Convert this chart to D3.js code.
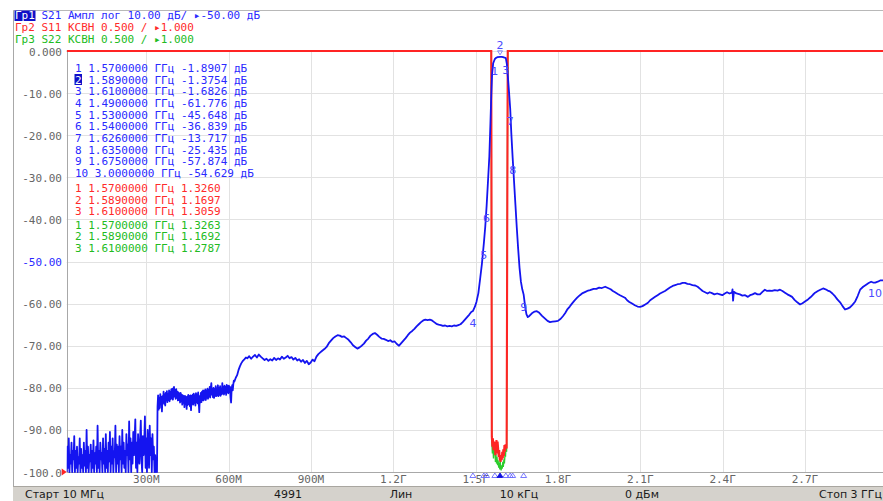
<!DOCTYPE html>
<html><head><meta charset="utf-8">
<script src="https://cdn.jsdelivr.net/npm/d3@7"></script>
<style>
html,body{margin:0;padding:0;background:#fff;overflow:hidden;}
svg{display:block;}
</style></head><body>
<svg id="c" width="883" height="501"></svg>
<script>
// ---------- DATA ----------
// S21 trace: [frequency MHz, dB]
const s21Points = [
[10,-100],[12.5,-94],[15,-99],[17.5,-92],[20,-100],[22.5,-96],[25,-98],[27.5,-93],[30,-100],[32.5,-95],
[35,-97],[37.5,-91.5],[40,-100],[42.5,-95],[45,-99],[47.5,-94],[50,-100],[52.5,-96.5],[55,-98],[57.5,-92],
[60,-100],[62.5,-94.5],[65,-99],[67.5,-96],[70,-100],[72.5,-93],[75,-98.5],[77.5,-95],[80,-100],[82.5,-90],
[85,-99],[87.5,-94],[90,-100],[92.5,-96],[95,-97.5],[97.5,-93.5],[100,-100],[102.5,-95],[105,-99],[107.5,-92.5],
[110,-100],[112.5,-95.5],[115,-98],[117.5,-94],[120,-100],[122.5,-89],[125,-99],[127.5,-95],[130,-100],[132.5,-93],
[135,-97],[137.5,-95.5],[140,-100],[142.5,-92],[145,-98],[147.5,-94.5],[150,-100],[152.5,-91],[155,-99],[157.5,-95],
[160,-100],[162.5,-93],[165,-97.5],[167.5,-90.5],[170,-100],[172.5,-94],[175,-98],[177.5,-92],[180,-100],[182.5,-95],
[185,-96.5],[187.5,-89],[190,-100],[192.5,-93.5],[195,-98],[197.5,-94],[200,-100],[202.5,-91.5],[205,-97],[207.5,-94],
[210,-100],[212.5,-90],[215,-98],[217.5,-93],[220,-99],[222.5,-95],[225,-100],[227.5,-91],[230,-96],[232.5,-93.5],
[235,-100],[237.5,-88],[240,-97],[242.5,-92],[245,-100],[247.5,-93],[250,-98],[252.5,-90.5],[255,-96],[257.5,-92],
[260,-87.5],[262.5,-99],[265,-93],[267.5,-100],[270,-91],[272.5,-95],[275,-98],[277.5,-92],[280,-87.8],[282.5,-97],
[285,-100],[287.5,-91.5],[290,-96],[292.5,-93],[295,-86.8],[297.5,-99],[300,-92],[302.5,-100],[305,-90],[307.5,-95],
[310,-99],[312.5,-89],[315,-96],[317.5,-92],[320,-100],[322.5,-91],[325,-97],[327.5,-94],[330,-100],[332.5,-96],
[335,-100],[337.5,-98],[339,-100],
[341,-84.5],[343,-81.8],[345,-85.2],[347,-82.4],[349,-84.8],[351,-81.5],[353,-83.9],[355,-82.2],[357,-85.6],[359,-82],
[361,-83.5],[363,-80.9],[365,-83.8],[367,-81.6],[369,-84.2],[371,-81.2],[373,-83],[375,-80.8],[377,-83.4],[379,-81.5],
[381,-82.9],[383,-80.6],[385,-83.2],[387,-81],[389,-82.7],[391,-80.4],[393,-82.5],[395,-80.2],[397,-82.8],[399,-80.6],
[401,-79.8],[403,-82.1],[405,-80.5],[407,-82.6],[409,-80.3],[411,-82.4],[413,-80.9],[415,-83],[417,-81.1],[419,-82.9],
[421,-81.4],[423,-83.5],[425,-81.2],[427,-83.2],[429,-81.6],[431,-84],[433,-81.8],[435,-83.6],[437,-82],[439,-84.6],
[441,-81.9],[443,-83.8],[445,-82.2],[447,-85],[449,-82.1],[451,-84.1],[453,-81.7],[455,-83.9],[457,-82],[459,-84.4],
[461,-81.8],[463,-85.3],[465,-82],[467,-83.8],[469,-81.6],[471,-84],[473,-81.4],[475,-83.6],[477,-81.8],[479,-84.2],
[481,-81.3],[483,-83.4],[485,-81.6],[487,-83.7],[489,-81.1],[491,-83.2],[493,-85.8],[495,-82],[497,-83.5],[499,-81.2],
[501,-83.4],[503,-80.9],[505,-82.9],[507,-80.6],[509,-83],[511,-80.8],[513,-82.6],[515,-80.4],[517,-82.9],[519,-80.7],
[521,-82.4],[523,-80.2],[525,-82.6],[527,-80.5],[529,-82.1],[531,-79.8],[533,-82.3],[535,-80.1],[537,-78.9],[539,-81.6],
[541,-80.4],[543,-82.2],[545,-80],[547,-82.4],[549,-80.3],[551,-81.9],[553,-79.6],[555,-82],[557,-80.2],[559,-81.8],
[561,-79.4],[563,-82],[565,-80.1],[567,-81.7],[569,-79.6],[571,-81.9],[573,-80.3],[575,-81.5],[577,-78.9],[579,-81.4],
[581,-79.8],[583,-81.6],[585,-79.5],[587,-81.2],[589,-79.9],[591,-81.7],[593,-79.3],[595,-81.1],[597,-79.6],[599,-81.3],
[601,-79.5],[603,-81],[605,-79.8],[607,-82.3],[609,-83.5],[611,-80.2],[613,-79.4],[615,-80.6],[617,-79.2],[619,-78.3],
[621,-78.5],[626,-77.6],[631,-77],[636,-75.8],[641,-74.9],[646,-74.2],[652,-73.6],[658,-73.2],[663,-72.8],
[668,-73.0],[675,-72.5],[682,-73.1],[689,-72.6],[696,-72.2],[703,-72.8],[710,-72.1],[717,-72.6],[724,-73.0],[731,-73.4],
[738,-73.1],[745,-73.6],[752,-73.2],[759,-73.5],[766,-72.9],[773,-73.4],[780,-73.0],[787,-73.3],[794,-72.6],[801,-73.1],
[808,-72.8],[815,-72.4],[822,-73.0],[829,-72.7],[836,-73.3],[843,-72.9],[850,-73.5],[857,-73.2],[864,-73.8],[871,-73.4],
[878,-74.1],[885,-73.6],[892,-74.4],[899,-74.0],[906,-73.3],[913,-73.7],[920,-72.6],[927,-72.0],[934,-71.6],[941,-71.2],
[949,-70.8],[957,-70.3],[965,-69.4],[973,-68.8],[981,-68.2],[989,-67.8],[997,-67.5],[1005,-67.6],[1013,-67.9],[1021,-67.8],
[1029,-68.2],[1037,-68.6],[1045,-69.2],[1053,-69.9],[1061,-70.3],[1069,-70.7],[1077,-70.4],[1085,-70.0],[1093,-69.5],[1101,-68.8],
[1109,-68.3],[1117,-67.6],[1125,-67.2],[1133,-67.0],[1141,-67.4],[1149,-67.9],[1157,-68.3],[1165,-68.4],[1173,-68.6],[1181,-68.9],
[1189,-68.7],[1197,-69.1],[1205,-69.0],[1213,-69.6],[1221,-70.0],[1229,-69.4],[1237,-68.8],[1245,-68.2],[1253,-67.5],[1261,-66.9],
[1269,-66.5],[1277,-66.0],[1285,-65.4],[1293,-64.9],[1301,-64.4],[1309,-64.0],[1317,-63.8],[1325,-63.9],[1333,-63.8],[1341,-64.0],
[1349,-64.4],[1357,-64.8],[1365,-65.0],[1373,-65.1],[1381,-65.3],[1389,-65.2],[1397,-65.4],[1405,-65.3],[1413,-65.4],[1421,-65.2],
[1429,-65.3],[1437,-65.1],[1445,-64.9],[1453,-64.4],[1461,-63.8],[1469,-63.2],[1477,-62.6],[1484,-62.0],[1490,-61.776],[1497,-60.8],
[1503,-59.6],[1510,-57.5],[1517,-53.8],[1523,-50.5],[1530,-45.648],[1535,-41.8],[1540,-36.839],[1545,-31.0],[1550,-25.0],[1554,-17.0],
[1557,-10.5],[1560,-5.5],[1564,-2.9],[1570,-1.8907],[1575,-1.6],[1580,-1.45],[1589,-1.3754],[1595,-1.38],[1600,-1.45],[1605,-1.55],
[1610,-1.6826],[1614,-3.2],[1618,-6.5],[1622,-10.0],[1626,-13.717],[1630,-19.5],[1635,-25.435],[1640,-31.0],[1645,-36.5],[1650,-42.0],
[1655,-47.0],[1660,-51.5],[1665,-54.8],[1670,-56.6],[1675,-57.874],[1680,-60.5],[1685,-62.5],[1690,-63.2],
[1695,-63.0],[1705,-62.3],[1715,-61.9],[1723,-61.8],[1732,-62.2],[1742,-62.9],[1752,-63.5],[1762,-64.1],[1771,-64.4],[1780,-64.3],
[1790,-64.2],[1800,-64.1],[1810,-63.6],[1818,-63.0],[1826,-62.3],[1835,-61.3],[1843,-60.7],[1851,-60.0],[1860,-59.3],[1870,-58.6],
[1880,-58.0],[1890,-57.5],[1900,-57.2],[1910,-56.9],[1917,-56.8],[1930,-56.5],[1940,-56.5],[1950,-56.2],[1960,-56.3],[1972,-56.0],
[1982,-56.3],[1992,-56.6],[2000,-57.0],[2008,-57.3],[2018,-57.7],[2026,-58.0],[2035,-58.3],[2044,-58.6],[2052,-59.2],[2060,-59.6],
[2070,-60.0],[2080,-60.4],[2090,-60.7],[2099,-60.8],[2108,-60.6],[2118,-60.2],[2128,-59.8],[2136,-59.2],[2145,-58.8],[2154,-58.4],
[2163,-58.0],[2172,-57.6],[2181,-57.3],[2190,-57.0],[2199,-56.6],[2208,-56.2],[2218,-55.8],[2227,-55.6],[2236,-55.4],[2245,-55.3],
[2254,-55.1],[2263,-55.1],[2272,-55.3],[2281,-55.4],[2290,-55.6],[2300,-55.7],[2309,-56.0],[2318,-56.5],
[2327,-57.0],[2336,-57.3],[2345,-57.6],[2353,-57.3],[2361,-57.5],[2370,-57.8],[2380,-57.6],[2390,-57.8],[2399,-58.0],
[2408,-57.6],[2416,-57.3],[2425,-57.6],[2434,-57.4],[2436,-56.6],[2438,-59.3],[2441,-57.2],[2450,-57.6],[2463,-57.8],[2472,-58.1],
[2482,-58.0],[2492,-58.4],[2500,-58.0],[2509,-57.8],[2518,-57.5],[2527,-57.8],[2536,-57.8],[2545,-57.2],[2554,-56.7],[2562,-57.0],
[2571,-56.9],[2580,-57.0],[2590,-56.8],[2600,-56.9],[2609,-56.7],[2618,-57.0],[2627,-57.4],[2636,-57.8],[2645,-58.1],[2653,-58.4],
[2662,-59.1],[2672,-59.7],[2682,-60.2],[2691,-59.9],[2700,-59.5],[2711,-59.0],[2720,-58.5],[2729,-57.9],[2737,-57.4],[2747,-57.0],
[2756,-56.7],[2766,-56.4],[2775,-56.6],[2783,-56.9],[2791,-57.1],[2800,-57.6],[2810,-58.3],[2818,-59.0],[2828,-59.7],[2837,-60.6],
[2846,-61.4],[2855,-61.2],[2864,-60.9],[2873,-60.3],[2883,-59.5],[2892,-58.2],[2901,-56.7],[2912,-56.0],[2923,-55.5],[2932,-55.1],
[2941,-54.8],[2948,-55.0],[2956,-55.0],[2965,-54.8],[2974,-54.5],[2985,-54.5],[2993,-54.6],[3000,-54.629]
];
// S11 VSWR trace: [frequency MHz, VSWR] (off-scale values clip at top)
const s11Points = [
[10,40],[1557,40],[1559,1.42],[1561,1.30],[1563,1.40],[1565,1.26],[1567,1.36],[1570,1.326],[1572,1.20],[1574,1.31],
[1576,1.38],[1578,1.22],[1580,1.36],[1582,1.28],[1584,1.18],[1586,1.26],[1588,1.14],[1589,1.1697],[1591,1.12],[1593,1.20],
[1595,1.14],[1597,1.24],[1599,1.16],[1601,1.27],[1603,1.19],[1605,1.32],[1607,1.24],[1609,1.33],[1610,1.3059],[1613,1.28],
[1617,40],[3000,40]
];
// S22 VSWR trace
const s22Points = [
[10,40],[1557,40],[1559,1.36],[1561,1.22],[1563,1.30],[1565,1.16],[1567,1.27],[1570,1.3263],[1572,1.12],[1574,1.22],
[1576,1.10],[1578,1.18],[1580,1.08],[1582,1.14],[1584,1.05],[1586,1.11],[1588,1.03],[1589,1.1692],[1591,1.06],[1593,1.02],
[1595,1.08],[1597,1.04],[1599,1.12],[1601,1.06],[1603,1.15],[1605,1.10],[1607,1.21],[1609,1.18],[1610,1.2787],[1613,1.24],
[1617,40],[3000,40]
];
// markers: [number, MHz, value]
const s21Markers = [[1,1570,-1.8907],[2,1589,-1.3754],[3,1610,-1.6826],[4,1490,-61.776],[5,1530,-45.648],
  [6,1540,-36.839],[7,1626,-13.717],[8,1635,-25.435],[9,1675,-57.874],[10,3000,-54.629]];
const s11Markers = [[1,1570,1.3260],[2,1589,1.1697],[3,1610,1.3059]];
const s22Markers = [[1,1570,1.3263],[2,1589,1.1692],[3,1610,1.2787]];
const activeMarker = 2;

const yTicks = [0,-10,-20,-30,-40,-50,-60,-70,-80,-90,-100];
const yTickLabels = ["0.000","-10.00","-20.00","-30.00","-40.00","-50.00","-60.00","-70.00","-80.00","-90.00","-100.0"];
const xTicks = [300,600,900,1200,1500,1800,2100,2400,2700];
const xTickLabels = ["300М","600М","900М","1.2Г","1.5Г","1.8Г","2.1Г","2.4Г","2.7Г"];
const headerTrace = ["Гр1","Гр2","Гр3"];
const headerText = [" S21 Ампл лог 10.00 дБ/ ▸-50.00 дБ"," S11 КСВН 0.500 / ▸1.000"," S22 КСВН 0.500 / ▸1.000"];
const statusLabels = ["Старт 10 МГц","4991","Лин","10 кГц","0 дБм","Стоп 3 ГГц"];
const statusPos = [25,288,401,519,642,882];

// ---------- STYLE ----------
const BLUE="#1414f0", RED="#ff2424", GREEN="#2ccc2c";
const BLUE_T="#2a2aff", RED_T="#ff2a2a", GREEN_T="#22bb22";
const MONO="'DejaVu Sans Mono', monospace", SANS="'DejaVu Sans', sans-serif";

const svg = d3.select("#c");
const L=66.7, R=887.3, T=51, B=472;
const x = d3.scaleLinear().domain([10,3000]).range([L,R]);
const y = d3.scaleLinear().domain([-100,0]).range([B,T]).clamp(true);
const yV = d3.scaleLinear().domain([1,6]).range([B,T]).clamp(true);

// frame
svg.append("line").attr("x1",13.5).attr("x2",13.5).attr("y1",10).attr("y2",487).attr("stroke","#a8a8a8");
svg.append("line").attr("x1",13).attr("x2",883).attr("y1",10.5).attr("y2",10.5).attr("stroke","#b8b8b8");

// grid
const g = svg.append("g");
g.selectAll("line.h").data(yTicks).join("line")
  .attr("x1",L).attr("x2",R).attr("y1",d=>Math.round(y(d))+0.5).attr("y2",d=>Math.round(y(d))+0.5)
  .attr("stroke",(d)=> d===-100 ? "#a8a8a8" : "#e2e2e2");
g.selectAll("line.v").data(xTicks).join("line")
  .attr("y1",T).attr("y2",B).attr("x1",d=>Math.round(x(d))+0.5).attr("x2",d=>Math.round(x(d))+0.5)
  .attr("stroke","#e2e2e2");
g.append("line").attr("x1",Math.round(L)+0.5).attr("x2",Math.round(L)+0.5).attr("y1",T).attr("y2",B).attr("stroke","#a8a8a8");

// y labels
svg.append("g").selectAll("text").data(yTicks).join("text")
  .attr("x",62).attr("y",d=>y(d)+4.5).attr("text-anchor","end")
  .attr("font-family",MONO).attr("font-size",11)
  .attr("fill",d=> d===-50 ? BLUE_T : "#666")
  .text((d,i)=>yTickLabels[i]);
// x labels
svg.append("g").selectAll("text").data(xTicks).join("text")
  .attr("x",d=>x(d)).attr("y",483).attr("text-anchor","middle")
  .attr("font-family",MONO).attr("font-size",11).attr("fill","#666")
  .text((d,i)=>xTickLabels[i]);

// clip
svg.append("clipPath").attr("id","pc").append("rect").attr("x",L).attr("y",T-2).attr("width",R-L).attr("height",B-T+3);
const traces = svg.append("g").attr("clip-path","url(#pc)");
const lineDb = d3.line().x(d=>x(d[0])).y(d=>y(d[1]));
const lineV = d3.line().x(d=>x(d[0])).y(d=>yV(d[1]));
traces.append("path").attr("d",lineV(s22Points)).attr("fill","none").attr("stroke",GREEN).attr("stroke-width",1.3);
traces.append("path").attr("d",lineV(s11Points)).attr("fill","none").attr("stroke",RED).attr("stroke-width",2.1);
traces.append("path").attr("d",lineDb(s21Points)).attr("fill","none").attr("stroke",BLUE).attr("stroke-width",1.8).attr("stroke-linejoin","round");

// reference arrow for S11/S22 (1.000 at bottom)
svg.append("path").attr("d",d3.line()([[L-5,yV(1)-3.5],[L,yV(1)],[L-5,yV(1)+3.5]])+"Z").attr("fill",RED);

// marker labels on S21 trace
const ml = svg.append("g").attr("font-family",SANS).attr("font-size",11).attr("fill","#4a4aff");
s21Markers.forEach(m=>{
  const px=x(m[1]), py=y(m[2]);
  if(m[0]===activeMarker){
    ml.append("text").attr("x",px).attr("y",py-8).attr("text-anchor","middle").text(m[0]);
    svg.append("path").attr("d",`M${px-2.5},${py-6}L${px+2.5},${py-6}L${px},${py-2}Z`).attr("fill","none").attr("stroke","#6a6aff").attr("stroke-width",0.8);
  } else if(px>875){
    ml.append("text").attr("x",882).attr("y",py+16).attr("text-anchor","end").text(m[0]);
  } else {
    ml.append("text").attr("x",px).attr("y",py+16).attr("text-anchor","middle").text(m[0]);
  }
});
// marker stimulus triangles at bottom
s21Markers.forEach(m=>{
  const px=x(m[1]);
  svg.append("path").attr("d",`M${px},${B+1}L${px+3},${B+5.5}L${px-3},${B+5.5}Z`)
    .attr("fill", m[0]===activeMarker ? "#1010e0" : "none")
    .attr("stroke", m[0]===activeMarker ? "#1010e0" : "#6a6aff").attr("stroke-width",0.9);
});

// marker table
const fmt = (m,unit)=>`${(m[1]/1000).toFixed(7)} ГГц ${m[2]<0?"":" "}${m[2].toPrecision(5)}${unit}`;
const rows = [];
s21Markers.forEach(m=>rows.push({n:m[0],t:fmt(m," дБ"),c:BLUE_T,act:m[0]===activeMarker}));
s11Markers.forEach(m=>rows.push({n:m[0],t:fmt(m,""),c:RED_T,act:false}));
s22Markers.forEach(m=>rows.push({n:m[0],t:fmt(m,""),c:GREEN_T,act:false}));
const rowY = [67.8,79.5,91.2,102.9,114.6,126.3,138,149.7,161.4,173.1,188.3,199.8,211.3,224.8,236.3,247.8];
const tbl = svg.append("g").attr("font-family",MONO).attr("font-size",11).style("white-space","pre");
rows.forEach((r,i)=>{
  if(r.act) tbl.append("rect").attr("x",74.5).attr("y",rowY[i]-5.5).attr("width",7.5).attr("height",11).attr("fill","#1010c8");
  const t = tbl.append("text").attr("x",75).attr("y",rowY[i]+4).attr("fill",r.c);
  t.append("tspan").attr("fill",r.act?"#fff":r.c).text(String(r.n));
  t.append("tspan").text(" "+r.t);
});

// header
const hdr = svg.append("g").attr("font-family",MONO).attr("font-size",11).style("white-space","pre");
const hColors=[BLUE_T,RED_T,GREEN_T];
const hY=[19.2,31,42.8];
hdr.append("rect").attr("x",14.5).attr("y",10.5).attr("width",21).attr("height",10.5).attr("fill","#1010c8");
headerTrace.forEach((h,i)=>{
  const t=hdr.append("text").attr("x",15).attr("y",hY[i]);
  t.append("tspan").attr("fill",i===0?"#fff":hColors[i]).text(h);
  t.append("tspan").attr("fill",hColors[i]).text(headerText[i]);
});

// status bar
svg.append("rect").attr("x",13).attr("y",487).attr("width",870).attr("height",14).attr("fill","#d5d2cc");
svg.append("line").attr("x1",13).attr("x2",883).attr("y1",486.5).attr("y2",486.5).attr("stroke","#a9a6a0");
svg.append("g").selectAll("text").data(statusLabels).join("text")
  .attr("x",(d,i)=>statusPos[i]).attr("y",497.5)
  .attr("text-anchor",(d,i)=> i===0 ? "start" : (i===5 ? "end" : "middle"))
  .attr("font-family",SANS).attr("font-size",11).attr("fill","#1a1a1a")
  .text(d=>d);
</script>
</body></html>
